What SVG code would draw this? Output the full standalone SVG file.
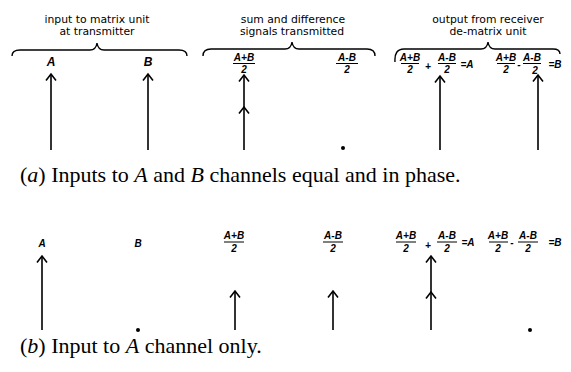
<svg xmlns="http://www.w3.org/2000/svg" width="571" height="372" viewBox="0 0 571 372">
<style>
.hd{font-family:"DejaVu Sans","Liberation Sans",sans-serif;font-size:10.8px;fill:#000;text-anchor:middle}
.lb{font-family:"Liberation Sans","DejaVu Sans",sans-serif;font-style:italic;font-weight:bold;font-size:10px;fill:#000;text-anchor:middle}
.big{font-family:"Liberation Sans","DejaVu Sans",sans-serif;font-style:italic;font-weight:bold;font-size:12px;fill:#000;text-anchor:middle}
.cap{font-family:"Liberation Serif","Times New Roman",serif;font-size:22px;fill:#000}
.br{fill:none;stroke:#000;stroke-width:1.4}
.fl{stroke:#000;stroke-width:1}
.ar{fill:none;stroke:#000;stroke-width:1.6;marker-end:url(#ah)}
.dt{fill:#000}
</style>
<defs>
<marker id="ah" markerUnits="userSpaceOnUse" markerWidth="14" markerHeight="14" refX="0" refY="0" orient="auto" viewBox="-8 -7 10 14" overflow="visible">
<path d="M-6.5,-5 L0,0 L-6.5,5" fill="none" stroke="#000" stroke-width="1.6"/>
</marker>
</defs>

<g id="braces">
<path class="br" d="M12,56 Q12,50 20,50 L90,50 Q96,50 97,43 Q98,50 104,50 L179,50 Q187,50 187,56"/>
<path class="br" d="M203,56 Q203,49 211,49 L285,49 Q291,49 292,42 Q293,49 299,49 L367,49 Q375,49 375,56"/>
<path class="br" d="M395,62 Q394,49 404,49 L481,49 Q487,49 488,42 Q489,49 495,49 L553,49 Q560,49 560,54"/>
</g>

<g id="headers">
<text class="hd" x="97" y="23">input to matrix unit</text>
<text class="hd" x="97" y="35">at transmitter</text>
<text class="hd" x="293" y="23">sum and difference</text>
<text class="hd" x="292" y="35">signals transmitted</text>
<text class="hd" x="488" y="23">output from receiver</text>
<text class="hd" x="488" y="35">de-matrix unit</text>
</g>

<g id="a-input-A"><text class="big" x="51" y="66">A</text></g>
<g id="a-input-B"><text class="big" x="148" y="66">B</text></g>
<g id="a-sum">
<text class="lb" x="244" y="61">A+B</text><line class="fl" x1="233" y1="63.5" x2="255" y2="63.5"/><text class="lb" x="244" y="73">2</text>
</g>
<g id="a-diff">
<text class="lb" x="347" y="61">A-B</text><line class="fl" x1="336" y1="63.5" x2="358" y2="63.5"/><text class="lb" x="347" y="73">2</text>
</g>
<g id="a-outA">
<text class="lb" x="410" y="61">A+B</text><line class="fl" x1="401" y1="63.5" x2="419" y2="63.5"/><text class="lb" x="410" y="73">2</text>
<text class="lb" x="428" y="70">+</text>
<text class="lb" x="447" y="61">A-B</text><line class="fl" x1="438" y1="63.5" x2="456" y2="63.5"/><text class="lb" x="447" y="73">2</text>
<text class="lb" x="467" y="68">=A</text>
</g>
<g id="a-outB">
<text class="lb" x="506" y="61">A+B</text><line class="fl" x1="497" y1="63.5" x2="515" y2="63.5"/><text class="lb" x="506" y="73">2</text>
<text class="lb" x="519" y="68">-</text>
<text class="lb" x="532" y="61">A-B</text><line class="fl" x1="523" y1="63.5" x2="541" y2="63.5"/><text class="lb" x="535" y="74">2</text>
<text class="lb" x="555" y="68">=B</text>
</g>

<g id="b-input-A"><text class="lb" x="42" y="247">A</text></g>
<g id="b-input-B"><text class="lb" x="138" y="247">B</text></g>
<g id="b-sum">
<text class="lb" x="234" y="239">A+B</text><line class="fl" x1="224" y1="242" x2="244" y2="242"/><text class="lb" x="234" y="252">2</text>
</g>
<g id="b-diff">
<text class="lb" x="333" y="239">A-B</text><line class="fl" x1="323" y1="242" x2="343" y2="242"/><text class="lb" x="333" y="252">2</text>
</g>
<g id="b-outA">
<text class="lb" x="406" y="239">A+B</text><line class="fl" x1="396" y1="242" x2="416" y2="242"/><text class="lb" x="406" y="252">2</text>
<text class="lb" x="428" y="249">+</text>
<text class="lb" x="447" y="239">A-B</text><line class="fl" x1="437" y1="242" x2="457" y2="242"/><text class="lb" x="447" y="252">2</text>
<text class="lb" x="468" y="246">=A</text>
</g>
<g id="b-outB">
<text class="lb" x="498" y="239">A+B</text><line class="fl" x1="489" y1="242" x2="508" y2="242"/><text class="lb" x="498" y="252">2</text>
<text class="lb" x="512" y="246">-</text>
<text class="lb" x="528" y="239">A-B</text><line class="fl" x1="518" y1="242" x2="538" y2="242"/><text class="lb" x="528" y="252">2</text>
<text class="lb" x="555" y="246">=B</text>
</g>

<g id="connectors">
<path class="ar" d="M51,150 L51,74"/>
<path class="ar" d="M148,150 L148,74"/>
<path class="ar" d="M244,150 L244,107"/>
<path class="ar" d="M244,107 L244,75"/>
<path class="ar" d="M440,150 L440,76"/>
<path class="ar" d="M538,150 L538,75"/>
<circle class="dt" cx="343" cy="148" r="2"/>

<path class="ar" d="M42,330 L42,256"/>
<circle class="dt" cx="138" cy="330" r="2"/>
<path class="ar" d="M235,330 L235,291"/>
<path class="ar" d="M333,330 L333,291"/>
<path class="ar" d="M431,330 L431,292"/>
<path class="ar" d="M431,292 L431,256"/>
<circle class="dt" cx="530" cy="330" r="2"/>
</g>

<g id="captions">
<text class="cap" x="20" y="182">(<tspan font-style="italic">a</tspan>)  Inputs to <tspan font-style="italic">A</tspan> and <tspan font-style="italic">B</tspan> channels equal and in phase.</text>
<text class="cap" x="20" y="353">(<tspan font-style="italic">b</tspan>)  Input to <tspan font-style="italic">A</tspan> channel only.</text>
</g>
</svg>
